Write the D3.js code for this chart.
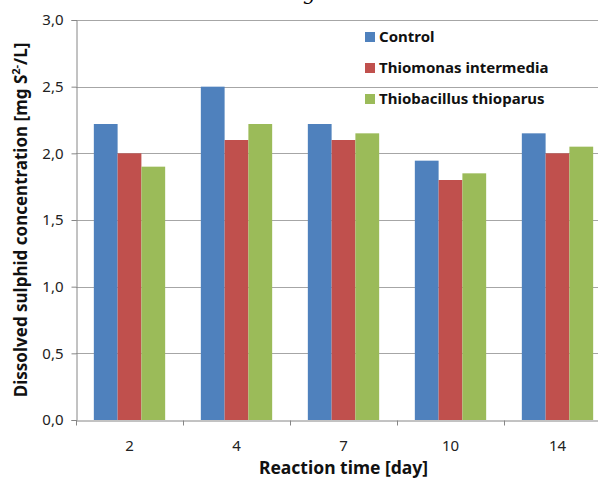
<!DOCTYPE html>
<html>
<head>
<meta charset="utf-8">
<script src="https://cdn.jsdelivr.net/npm/d3@7"></script>
<style>
  body { margin: 0; background: #fff; }
  svg { display: block; }
</style>
</head>
<body>
<div id="chart"></div>
<script>
// chart data
const days = ["2", "4", "7", "10", "14"];
const series = ["Control", "Thiomonas intermedia", "Thiobacillus thioparus"];
const control = [2.22, 2.5, 2.22, 1.945, 2.15];
const thiomonas = [2.0, 2.1, 2.1, 1.8, 2.0];
const thiobacillus = [1.9, 2.22, 2.15, 1.85, 2.05];
const yTicks = [0, 0.5, 1, 1.5, 2, 2.5, 3];

const colors = ["#4f81bd", "#c0504d", "#9bbb59"];
const values = [control, thiomonas, thiobacillus];

const width = 598, height = 483;
const margin = { top: 20, right: -13, bottom: 63, left: 76 };
const font = "'Noto Sans', 'Open Sans', sans-serif";

const svg = d3
  .select("#chart")
  .append("svg")
  .attr("width", width)
  .attr("height", height);

// the cut off title above the chart, only its descender shows
svg
  .append("text")
  .attr("x", 303)
  .attr("y", 0)
  .attr("font-family", "'DejaVu Serif', serif")
  .attr("font-style", "italic")
  .attr("font-size", 20)
  .text("g");

const x = d3
  .scaleBand()
  .domain(days)
  .range([margin.left, width - margin.right]);

const xInner = d3
  .scaleBand()
  .domain(series)
  .range([0, x.bandwidth()])
  .paddingOuter(0.75);

const y = d3
  .scaleLinear()
  .domain([0, 3])
  .range([height - margin.bottom, margin.top]);

// gridlines
svg
  .append("g")
  .attr("stroke", "#a6a6a6")
  .attr("stroke-width", 1)
  .selectAll("line")
  .data(yTicks.slice(1))
  .join("line")
  .attr("x1", margin.left)
  .attr("x2", width - margin.right)
  .attr("y1", (d) => Math.round(y(d)) + 0.5)
  .attr("y2", (d) => Math.round(y(d)) + 0.5);

// bars
svg
  .append("g")
  .selectAll("g")
  .data(series)
  .join("g")
  .attr("fill", (d, i) => colors[i])
  .selectAll("rect")
  .data((s, i) => values[i].map((v, j) => ({ s, v, day: days[j] })))
  .join("rect")
  .attr("x", (d) => x(d.day) + xInner(d.s))
  .attr("width", xInner.bandwidth())
  .attr("y", (d) => y(d.v))
  .attr("height", (d) => y(0) - y(d.v));

// y axis
const yAxis = svg
  .append("g")
  .attr("transform", `translate(${margin.left + 0.5},0)`)
  .call(
    d3
      .axisLeft(y)
      .tickValues(yTicks)
      .tickSize(5)
      .tickPadding(8)
      .tickFormat((d) => d3.format(".1f")(d).replace(".", ","))
  );
yAxis.select(".domain").attr("stroke", "#868686");
yAxis.selectAll(".tick line").attr("stroke", "#868686");
yAxis
  .selectAll(".tick text")
  .attr("font-family", font)
  .attr("font-size", 15)
  .attr("fill", "#222");

// x axis
const xAxis = svg
  .append("g")
  .attr("transform", `translate(0,${y(0) + 0.5})`)
  .call(d3.axisBottom(x).tickSize(0).tickPadding(20));
xAxis.select(".domain").attr("stroke", "#868686");
xAxis
  .selectAll(".tick text")
  .attr("font-family", font)
  .attr("font-size", 15)
  .attr("fill", "#222");
// tick marks between the categories
xAxis
  .append("g")
  .selectAll("line")
  .data(days)
  .join("line")
  .attr("x1", (d) => Math.round(x(d)) + 0.5)
  .attr("x2", (d) => Math.round(x(d)) + 0.5)
  .attr("y1", 0)
  .attr("y2", 5)
  .attr("stroke", "#868686");

// axis titles
svg
  .append("text")
  .attr("x", (margin.left + width - margin.right) / 2)
  .attr("y", 474)
  .attr("text-anchor", "middle")
  .attr("font-family", font)
  .attr("font-weight", "bold")
  .attr("font-size", 17.5)
  .attr("fill", "#111")
  .text("Reaction time [day]");

const yTitle = svg
  .append("text")
  .attr("transform", `translate(27,${(margin.top + height - margin.bottom) / 2}) rotate(-90)`)
  .attr("text-anchor", "middle")
  .attr("font-family", font)
  .attr("font-weight", "bold")
  .attr("font-size", 17)
  .attr("fill", "#111");
yTitle.append("tspan").text("Dissolved sulphid concentration [mg S");
yTitle
  .append("tspan")
  .attr("dy", -7)
  .attr("font-size", 11)
  .text("2-");
yTitle.append("tspan").attr("dy", 7).text("/L]");

// legend
const legend = svg
  .append("g")
  .selectAll("g")
  .data(series)
  .join("g")
  .attr("transform", (d, i) => `translate(365,${37 + i * 31})`);
legend
  .append("rect")
  .attr("y", -5)
  .attr("width", 10)
  .attr("height", 10)
  .attr("fill", (d, i) => colors[i]);
legend
  .append("text")
  .attr("x", 14)
  .attr("dy", "0.35em")
  .attr("font-family", font)
  .attr("font-weight", "bold")
  .attr("font-size", 15)
  .attr("fill", "#111")
  .text((d) => d);
</script>
</body>
</html>
